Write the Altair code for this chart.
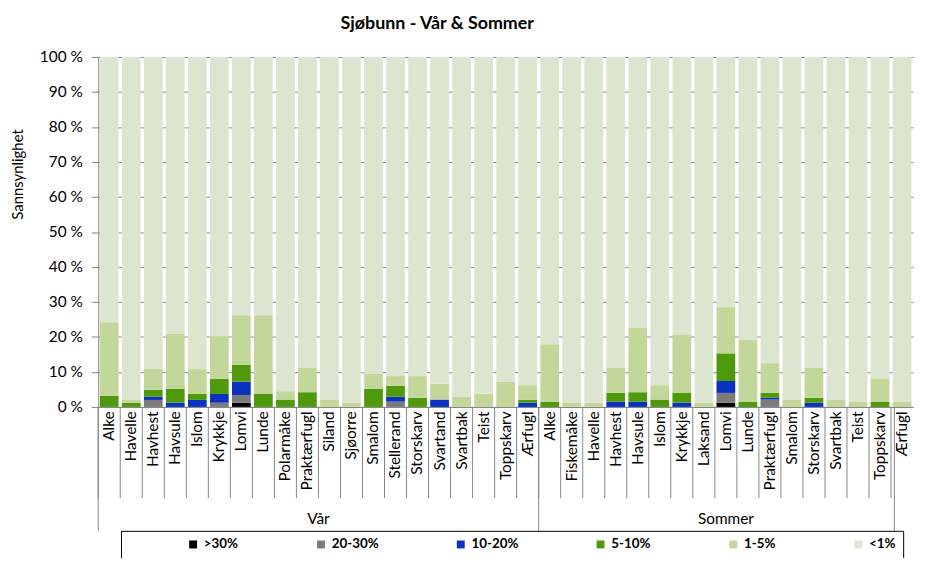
import altair as alt
import pandas as pd

FONT = "Lato"

LEVELS = [">30%", "20-30%", "10-20%", "5-10%", "1-5%", "<1%"]
COLORS = ["#000000", "#7a7a7a", "#0a32c0", "#4f9a0a", "#c4d79b", "#dbe5cf"]

VAR_SPECIES = ["Alke", "Havelle", "Havhest", "Havsule", "Islom", "Krykkje", "Lomvi",
               "Lunde", "Polarmåke", "Praktærfugl", "Siland", "Sjøorre", "Smalom",
               "Stellerand", "Storskarv", "Svartand", "Svartbak", "Teist", "Toppskarv", "Ærfugl"]
VAR_GT30 = [0, 0, 0, 0, 0, 0, 1.2, 0, 0, 0, 0, 0, 0, 0, 0, 0, 0, 0, 0, 0]
VAR_20_30 = [0, 0, 2.0, 0, 0, 1.2, 2.2, 0, 0, 0, 0, 0, 0, 1.5, 0, 0, 0, 0, 0, 0]
VAR_10_20 = [0, 0, 0.9, 1.2, 2.0, 2.5, 3.8, 0, 0, 0, 0, 0, 0, 1.4, 0, 2.1, 0, 0, 0, 1.2]
VAR_5_10 = [3.2, 1.2, 2.0, 4.0, 1.7, 4.3, 4.8, 3.7, 2.1, 4.2, 0, 0, 5.2, 3.1, 2.6, 0, 0, 0, 0, 0.8]
VAR_1_5 = [21.0, 0.8, 6.1, 15.8, 7.1, 12.2, 14.2, 22.5, 2.4, 7.1, 2.0, 1.2, 4.2, 2.8, 6.2, 4.5, 2.9, 3.8, 7.2, 4.2]

SOM_SPECIES = ["Alke", "Fiskemåke", "Havelle", "Havhest", "Havsule", "Islom", "Krykkje",
               "Laksand", "Lomvi", "Lunde", "Praktærfugl", "Smalom", "Storskarv",
               "Svartbak", "Teist", "Toppskarv", "Ærfugl"]
SOM_GT30 = [0, 0, 0, 0, 0, 0, 0, 0, 1.2, 0, 0, 0, 0, 0, 0, 0, 0]
SOM_20_30 = [0, 0, 0, 0, 0, 0, 0, 0, 2.8, 0, 2.1, 0, 0, 0, 0, 0, 0]
SOM_10_20 = [0, 0, 0, 1.5, 1.5, 0, 1.2, 0, 3.4, 0, 0.5, 0, 1.2, 0, 0, 0, 0]
SOM_5_10 = [1.5, 0, 0, 2.5, 2.7, 2.1, 2.8, 0, 7.9, 1.5, 1.4, 0, 1.4, 0, 0, 1.5, 0]
SOM_1_5 = [16.4, 1.2, 1.2, 7.3, 18.5, 4.1, 16.8, 1.2, 13.2, 17.8, 8.5, 2.0, 8.7, 2.0, 1.5, 6.5, 1.5]

rows = []
keys = []
for group, species, arrs in [
    ("Vår", VAR_SPECIES, [VAR_GT30, VAR_20_30, VAR_10_20, VAR_5_10, VAR_1_5]),
    ("Sommer", SOM_SPECIES, [SOM_GT30, SOM_20_30, SOM_10_20, SOM_5_10, SOM_1_5]),
]:
    for i, sp in enumerate(species):
        key = f"{group}|{sp}"
        keys.append(key)
        vals = [a[i] for a in arrs]
        vals.append(100 - sum(vals))
        for li, (lvl, v) in enumerate(zip(LEVELS, vals)):
            rows.append({"key": key, "level": lvl, "idx": li, "value": v})
df = pd.DataFrame(rows)

STEP = 822 / len(keys)
GAP = 0.15 * STEP

x_axis = alt.Axis(title=None, labelAngle=-90, labelExpr="split(datum.label, '|')[1]",
                  labelFont=FONT, labelFontSize=15.5, labelColor="#000000", labelPadding=4,
                  labelAlign="right", labelBaseline="middle", ticks=False,
                  domain=True, domainColor="#868686", labelOverlap=False)
x_scale = alt.Scale(paddingInner=0.15, paddingOuter=0.075)

y_axis = alt.Axis(title="Sannsynlighet", values=list(range(0, 101, 10)),
                  labelExpr="datum.value + ' %'", labelFont=FONT, labelFontSize=15.5,
                  labelColor="#000000", labelPadding=9, tickSize=7, tickColor="#868686",
                  domainColor="#868686", gridColor="#8c8c8c", grid=True,
                  titleFont=FONT, titleFontSize=15, titleFontWeight="normal",
                  titleColor="#000000", titleX=-81, titleY=118, titleAlign="center",
                  titleBaseline="middle")
y_scale = alt.Scale(domain=[0, 100], nice=False)

bars = alt.Chart(df).mark_bar().encode(
    x=alt.X("key:N", sort=keys, scale=x_scale, axis=x_axis),
    y=alt.Y("value:Q", stack="zero", scale=y_scale, axis=y_axis),
    color=alt.Color("level:N", scale=alt.Scale(domain=LEVELS, range=COLORS),
                    legend=alt.Legend(title="\u00a0", titleOrient="left", titlePadding=59,
                                      titleFontSize=13,
                                      orient="none", legendX=23, legendY=478,
                                      direction="horizontal", columns=6,
                                      symbolType="square", symbolSize=64,
                                      symbolStrokeWidth=0, labelFont=FONT,
                                      labelFontSize=13.5, labelFontWeight="bold",
                                      labelColor="#000000", strokeColor="#000000",
                                      padding=7, gridAlign="none", columnPadding=76,
                                      labelOffset=4)),
    order=alt.Order("idx:Q", sort="ascending"),
)

sep_df = pd.DataFrame({"key": keys})
short_sep = alt.Chart(sep_df).mark_rule(color="#868686", strokeWidth=1).encode(
    x=alt.X("key:N", sort=keys, scale=x_scale, axis=x_axis, bandPosition=0),
    xOffset=alt.value(-GAP / 2),
    y=alt.value(353), y2=alt.value(445),
)

long_df = pd.DataFrame({"key": [keys[0], keys[len(VAR_SPECIES)]]})
long_sep = alt.Chart(long_df).mark_rule(color="#868686", strokeWidth=1).encode(
    x=alt.X("key:N", sort=keys, scale=x_scale, axis=x_axis, bandPosition=0),
    xOffset=alt.value(-GAP / 2),
    y=alt.value(353), y2=alt.value(478),
)
end_df = pd.DataFrame({"key": [keys[-1]]})
end_sep = alt.Chart(end_df).mark_rule(color="#868686", strokeWidth=1).encode(
    x=alt.X("key:N", sort=keys, scale=x_scale, axis=x_axis, bandPosition=1),
    xOffset=alt.value(GAP / 2),
    y=alt.value(353), y2=alt.value(478),
)

var_lab = alt.Chart(pd.DataFrame({"key": [keys[10]], "label": ["Vår"]})).mark_text(
    font=FONT, fontSize=15.5, color="#000000", baseline="middle").encode(
    x=alt.X("key:N", sort=keys, scale=x_scale, axis=x_axis, bandPosition=0),
    xOffset=alt.value(-GAP / 2),
    y=alt.value(466), text="label:N",
)
som_lab = alt.Chart(pd.DataFrame({"key": [keys[len(VAR_SPECIES) + 8]], "label": ["Sommer"]})).mark_text(
    font=FONT, fontSize=15.5, color="#000000", baseline="middle").encode(
    x=alt.X("key:N", sort=keys, scale=x_scale, axis=x_axis),
    y=alt.value(466), text="label:N",
)

chart = alt.layer(bars, short_sep, long_sep, end_sep, var_lab, som_lab).properties(
    width=822, height=353,
    title=alt.TitleParams("Sjøbunn - Vår & Sommer", font=FONT, fontSize=18,
                          fontWeight="bold", color="#000000", anchor="middle",
                          frame="group", dx=-69, offset=17),
    autosize=alt.AutoSizeParams(type="none"),
    padding={"left": 91, "top": 47, "right": 7, "bottom": 150},
    background="#ffffff",
).configure_view(stroke=None)

chart.save("out.html", embed_options={"renderer": "svg", "actions": False})
